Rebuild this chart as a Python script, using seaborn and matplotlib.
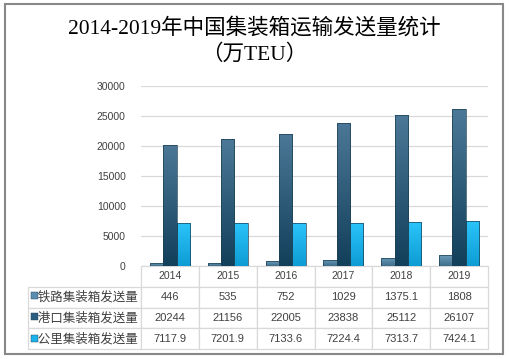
import matplotlib
matplotlib.use("Agg")
import matplotlib.pyplot as plt
from matplotlib.patches import Rectangle
from matplotlib.colors import LinearSegmentedColormap
import numpy as np
import seaborn as sns
import pandas as pd

years = ["2014", "2015", "2016", "2017", "2018", "2019"]
series = ["铁路集装箱发送量", "港口集装箱发送量", "公里集装箱发送量"]
rail = [446, 535, 752, 1029, 1375.1, 1808]
port = [20244, 21156, 22005, 23838, 25112, 26107]
road = [7117.9, 7201.9, 7133.6, 7224.4, 7313.7, 7424.1]
rail_txt = ["446", "535", "752", "1029", "1375.1", "1808"]
port_txt = ["20244", "21156", "22005", "23838", "25112", "26107"]
road_txt = ["7117.9", "7201.9", "7133.6", "7224.4", "7313.7", "7424.1"]
yticks = [0, 5000, 10000, 15000, 20000, 25000, 30000]
colors = ["#5a8db0", "#2a5d80", "#1db2ea"]
grad_top = ["#6c9cba", "#4a7896", "#2ac4fa"]
grad_bot = ["#3e6e8c", "#12405b", "#0e9cd4"]

df = pd.DataFrame({
    "year": years * 3,
    "value": rail + port + road,
    "series": [series[0]] * 6 + [series[1]] * 6 + [series[2]] * 6,
})

sns.set_theme(style="white")
plt.rcParams["font.family"] = ["Liberation Sans", "Noto Sans CJK SC"]

fig = plt.figure(figsize=(5.09, 3.59), dpi=100)
ax = fig.add_axes([141 / 509, 1 - 266 / 359, 347 / 509, 180 / 359])

sns.barplot(data=df, x="year", y="value", hue="series", hue_order=series,
            palette=colors, width=0.69, gap=0, ax=ax, legend=False,
            edgecolor="#1c3f55", linewidth=0.5, saturation=1)

ax.set_ylim(0, 30000)
ax.set_xlim(-0.5, 5.5)

# vertical gradient shading on the bars
bars = [p for p in ax.patches if isinstance(p, Rectangle)]
for i, p in enumerate(bars):
    k = i // 6
    cmap = LinearSegmentedColormap.from_list("g", [grad_bot[k], grad_top[k]])
    x0, y0 = p.get_x(), p.get_y()
    w, h = p.get_width(), p.get_height()
    grad = np.linspace(0, 1, 64).reshape(-1, 1)
    im = ax.imshow(grad, cmap=cmap, origin="lower", aspect="auto",
                   extent=[x0, x0 + w, y0, y0 + h], zorder=p.get_zorder() + 0.1)
    im.set_clip_path(p)
    p.set_facecolor("none")
    p.set_zorder(p.get_zorder() + 0.2)

ax.set_ylim(0, 30000)
ax.set_xlim(-0.5, 5.5)
ax.set_aspect("auto")
ax.set_yticks(yticks)
ax.set_yticklabels([str(v) for v in yticks], fontsize=7.5, color="#404040")
ax.tick_params(axis="y", length=0, pad=11)
ax.set_xticks([])
ax.set_xlabel("")
ax.set_ylabel("")
ax.yaxis.grid(True, color="#d9d9d9", linewidth=0.9)
ax.set_axisbelow(True)
for s in ["left", "right", "top", "bottom"]:
    ax.spines[s].set_visible(False)

# data table
cell_text = [[" " + series[0]] + rail_txt,
             [" " + series[1]] + port_txt,
             [" " + series[2]] + road_txt]
lab_w = 113 / 460
col_w = (347 / 6) / 460
tbl = ax.table(cellText=cell_text, colLabels=[""] + years,
               colWidths=[lab_w] + [col_w] * 6, cellLoc="center",
               bbox=[-113 / 347, -83 / 180, 460 / 347, 83 / 180])
tbl.auto_set_font_size(False)
for (r, c), cell in tbl.get_celld().items():
    cell.set_edgecolor("#d9d9d9")
    cell.set_linewidth(0.9)
    txt = cell.get_text()
    txt.set_color("#404040")
    if r == 0:
        txt.set_fontsize(7.5)
        if c == 0:
            cell.visible_edges = ""
    elif c == 0:
        txt.set_fontsize(9)
        txt.set_fontfamily(["Noto Sans CJK SC"])
        cell.set_text_props(ha="left")
        cell.PAD = 0.06
    else:
        txt.set_fontsize(8)

# legend keys in row labels
row_centers = [295.5, 316.5, 338]
for yc, col in zip(row_centers, colors):
    fig.patches.append(Rectangle((31 / 509, 1 - (yc + 3.5) / 359), 7 / 509, 7 / 359,
                                 transform=fig.transFigure, facecolor=col,
                                 edgecolor="#1c3f55", linewidth=0.3))

fig.text(0.5, 1 - 28 / 359, "2014-2019年中国集装箱运输发送量统计",
         ha="center", va="center", fontsize=15.5, fontweight="medium",
         family=["Liberation Serif", "Noto Sans CJK SC"], color="black")
fig.text(0.5, 1 - 55 / 359, "（万TEU）",
         ha="center", va="center", fontsize=15.5, fontweight="medium",
         family=["Liberation Serif", "Noto Sans CJK SC"], color="black")

fig.patches.append(Rectangle((5 / 509, 1 - 354 / 359), 498 / 509, 350 / 359,
                             transform=fig.transFigure, fill=False,
                             edgecolor="#888888", linewidth=1.5))

fig.savefig("out.png", dpi=100)
